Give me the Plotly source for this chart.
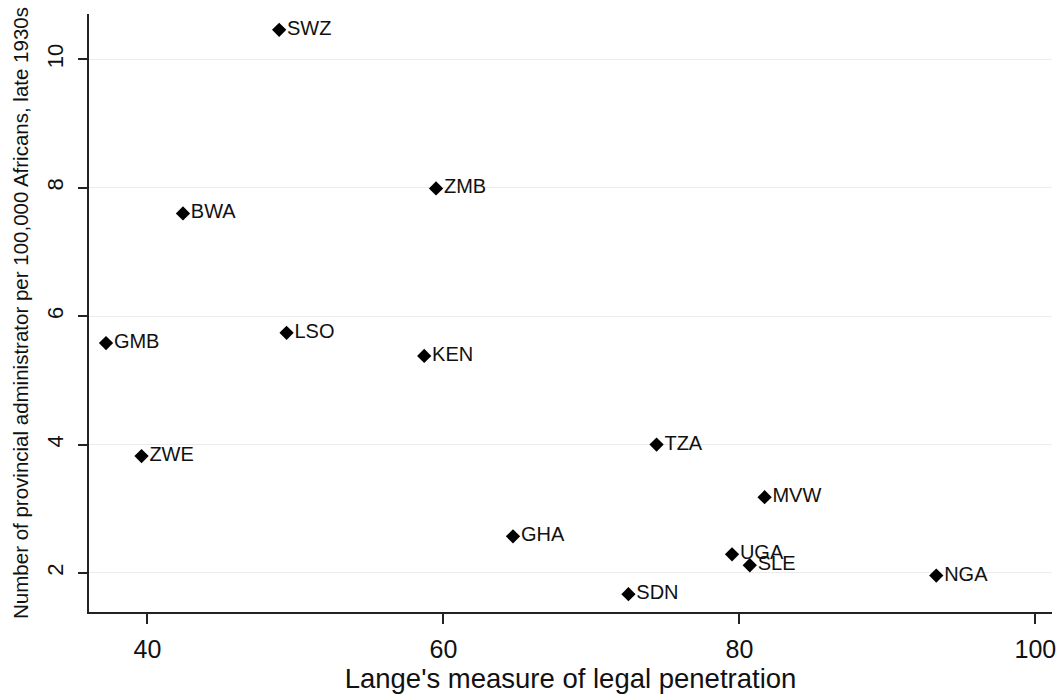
import plotly.graph_objects as go

# Country codes with legal penetration (x) and administrators per 100,000 (y)
countries = ["SWZ", "ZMB", "BWA", "GMB", "LSO", "KEN", "ZWE", "TZA",
             "MVW", "GHA", "UGA", "SLE", "NGA", "SDN"]
legal_penetration = [48.9, 59.5, 42.4, 37.2, 49.4, 58.7, 39.6, 74.4,
                     81.7, 64.7, 79.5, 80.7, 93.3, 72.5]
administrators = [10.46, 7.99, 7.60, 5.58, 5.74, 5.38, 3.82, 4.00,
                  3.18, 2.57, 2.29, 2.12, 1.96, 1.67]

x_ticks = [40, 60, 80, 100]
y_ticks = [2, 4, 6, 8, 10]

FONT = "Liberation Sans, Arial, sans-serif"

fig = go.Figure()
fig.add_trace(go.Scatter(
    x=legal_penetration,
    y=administrators,
    mode="markers+text",
    text=countries,
    textposition="middle right",
    textfont=dict(family=FONT, size=20, color="#111111"),
    marker=dict(symbol="diamond", size=11, color="black"),
    showlegend=False,
    cliponaxis=False,
))

fig.update_layout(
    width=1064,
    height=697,
    margin=dict(l=89, r=8, t=14, b=85),
    paper_bgcolor="white",
    plot_bgcolor="white",
    font=dict(family=FONT, color="#111111"),
)

fig.update_xaxes(
    range=[36.05, 101.12],
    tickvals=x_ticks,
    ticks="outside",
    ticklen=10,
    tickwidth=1.5,
    tickcolor="#222222",
    ticklabelstandoff=4,
    showline=True,
    linecolor="#222222",
    linewidth=1.5,
    showgrid=False,
    zeroline=False,
    tickfont=dict(size=25),
    title=dict(text="Lange's measure of legal penetration", font=dict(size=27.5), standoff=6),
)

fig.update_yaxes(
    range=[1.392, 10.706],
    tickvals=y_ticks,
    tickangle=-90,
    ticks="outside",
    ticklen=9,
    tickwidth=1.5,
    tickcolor="#222222",
    ticklabelstandoff=6,
    showline=True,
    linecolor="#222222",
    linewidth=1.5,
    showgrid=True,
    gridcolor="#ebebeb",
    gridwidth=1,
    zeroline=False,
    tickfont=dict(size=22),
    title=dict(text="Number of provincial administrator per 100,000 Africans, late 1930s",
               font=dict(size=20.5), standoff=9),
)

fig.write_html("out.html")
